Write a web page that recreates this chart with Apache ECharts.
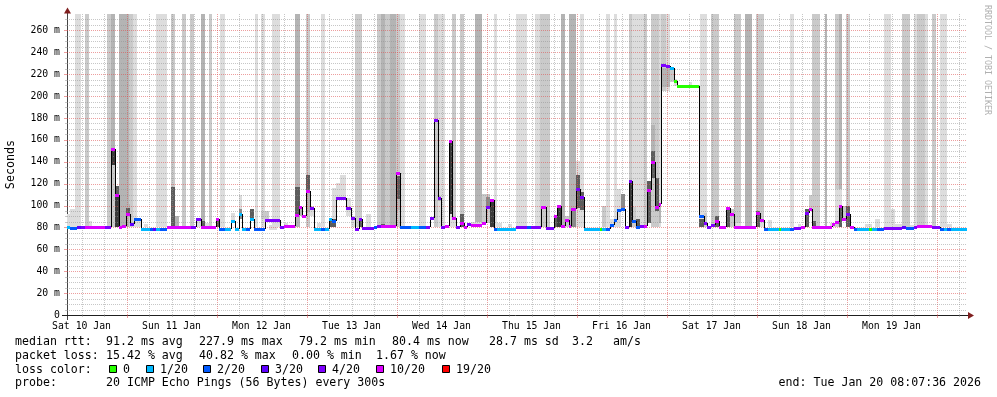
<!DOCTYPE html>
<html>
<head>
<meta charset="utf-8">
<title>smokeping</title>
<script src="https://cdn.jsdelivr.net/npm/echarts@6/dist/echarts.min.js"></script>
<style>
  html, body { margin: 0; padding: 0; background: #fff; }
  #chart { width: 997px; height: 397px; }
</style>
</head>
<body>
<div id="chart"></div>
<script>
// x values are hours from the graph start (Sat 10 Jan 08:07:36), 10 days shown
var START = Date.UTC(2026, 0, 10, 8, 7, 36);
var SPAN = 240;
var YMAX = 275;

var dayLabels = ['Sat 10 Jan', 'Sun 11 Jan', 'Mon 12 Jan', 'Tue 13 Jan', 'Wed 14 Jan',
                 'Thu 15 Jan', 'Fri 16 Jan', 'Sat 17 Jan', 'Sun 18 Jan', 'Mon 19 Jan'];

var lossLabels = ['0', '1/20', '2/20', '3/20', '4/20', '10/20', '19/20'];
var lossColors = ['#26ff00', '#00b8ff', '#0059ff', '#5e00ff', '#7e00ff', '#dd00ff', '#ff0000'];

// median rtt steps: start hour, ms, loss colour index
var medH = [0, 0.9, 2.7, 3.8, 4.9, 10.0, 11.6, 12.9, 13.8, 14.7, 15.6, 16.7, 17.8, 19.7, 22.0, 22.8, 23.7, 24.9, 26.7, 33.0,
  34.5, 35.7, 39.6, 40.6, 42.0, 43.6, 44.7, 45.8, 46.7, 47.8, 48.7, 49.8, 52.7, 56.7, 57.8, 60.8, 61.8, 62.7, 63.7, 64.7,
  65.8, 67.7, 68.9, 69.8, 70.7, 71.7, 74.5, 75.6, 76.7, 77.8, 78.7, 81.8, 82.7, 83.8, 87.6, 88.9, 91.7, 93.8, 95.8, 96.7,
  97.8, 98.8, 99.8, 100.9, 101.8, 102.7, 103.7, 104.7, 105.8, 106.7, 107.7, 110.7, 111.6, 112.7, 113.8, 114.7, 119.7, 122.7, 123.7, 126.5,
  127.7, 129.8, 130.7, 131.7, 132.7, 133.8, 134.5, 135.6, 136.7, 137.8, 142.0, 142.7, 143.7, 144.7, 145.8, 146.7, 147.7, 148.7, 149.8, 150.7,
  151.7, 152.8, 153.8, 154.7, 155.7, 156.7, 157.8, 158.5, 159.7, 160.9, 161.8, 162.7, 168.6, 169.8, 170.7, 171.7, 172.7, 173.8, 175.6, 176.7,
  177.8, 183.6, 184.7, 185.8, 186.8, 189.8, 190.5, 192.8, 193.8, 195.8, 196.7, 197.8, 198.7, 204.0, 204.9, 205.8, 206.7, 207.8, 208.7, 209.8,
  210.7, 213.8, 214.7, 216.0, 217.8, 222.7, 223.6, 225.8, 226.7, 230.7, 232.9, 233.8, 234.7, 235.6];
var medMs = [80, 79.5, 80, 80, 80.5, 80, 152, 110, 80, 81.5, 92, 83, 88, 79, 79, 79, 79, 79, 80.5, 80,
  88, 80.5, 88, 79, 79, 86, 79, 92, 79, 79, 88, 79, 87, 80, 81, 91, 99, 90, 113, 98,
  79, 79, 79, 88, 86, 107, 98, 89, 79, 88, 79.5, 80, 81, 81.5, 130, 80, 80, 80, 80, 89,
  178, 107, 80, 81, 159, 89, 80, 84, 80, 83, 82, 84.5, 99, 105, 79, 79, 80, 80, 80, 99,
  79.5, 90, 100, 81, 87, 81, 97, 115, 108, 79, 79, 79, 79, 82, 87, 96, 97, 80, 122, 86,
  80, 81, 81.5, 114, 139.5, 99, 101, 228, 227.5, 226, 213.5, 209, 90, 84.5, 80, 82.5, 86, 80, 97.5, 92,
  80, 93, 86.5, 79, 79, 79, 79, 79, 79.5, 80, 93, 96.5, 80, 83, 85, 99.7, 88, 92, 80, 79,
  79, 79, 79, 79, 79.5, 80, 79.5, 80, 81, 80.5, 79, 79, 79, 79];
var medLoss = [1, 2, 3, 4, 5, 4, 5, 5, 5, 5, 5, 3, 2, 1, 2, 3, 1, 2, 5, 4,
  4, 5, 5, 2, 1, 1, 1, 1, 1, 2, 1, 2, 4, 4, 5, 5, 5, 5, 5, 4,
  1, 2, 1, 1, 2, 4, 4, 4, 4, 4, 4, 2, 4, 5, 5, 2, 1, 2, 4, 4,
  4, 4, 4, 5, 5, 5, 4, 5, 5, 4, 5, 5, 4, 5, 2, 1, 4, 2, 4, 5,
  4, 5, 5, 5, 5, 5, 5, 4, 4, 1, 0, 1, 2, 2, 2, 2, 2, 4, 4, 2,
  2, 4, 5, 5, 5, 5, 5, 4, 4, 1, 0, 0, 2, 4, 4, 4, 5, 5, 5, 5,
  5, 5, 5, 2, 1, 0, 1, 2, 4, 5, 4, 5, 5, 5, 5, 5, 5, 4, 5, 2,
  1, 0, 1, 2, 4, 3, 2, 4, 5, 4, 2, 1, 2, 1];

// ping spread reaching above the top of the graph: start hour, end hour, lowest ms, shade
var smokeTall = [
  [2.0, 3.8, 80, 0], [4.7, 5.8, 80, 1], [10.7, 11.6, 80, 1], [11.6, 12.9, 80, 2], [13.8, 16.4, 80, 2], [16.4, 17.5, 80, 1],
  [17.5, 18.7, 80, 0], [23.7, 26.7, 80, 0], [27.7, 28.9, 80, 1], [30.7, 31.7, 80, 1], [32.9, 33.8, 80, 1], [35.7, 36.9, 80, 2],
  [37.8, 38.7, 80, 1], [40.9, 42.0, 80, 0], [50.0, 50.8, 80, 0], [51.7, 52.7, 80, 0], [54.7, 56.9, 80, 0], [60.8, 62.0, 80, 2],
  [63.7, 64.9, 80, 1], [67.7, 68.9, 80, 0], [76.9, 78.7, 80, 1], [82.7, 83.8, 80, 1], [83.8, 84.9, 80, 2], [84.9, 86.0, 80, 1],
  [86.0, 87.6, 80, 2], [87.6, 88.9, 80, 1], [88.9, 90.0, 80, 0], [93.8, 95.8, 80, 0], [97.8, 98.8, 80, 1], [98.8, 100.9, 80, 0],
  [102.7, 103.7, 80, 1], [104.7, 105.8, 80, 1], [108.9, 110.7, 80, 2], [113.8, 114.7, 80, 0], [119.7, 122.7, 80, 0], [124.9, 126.0, 80, 0],
  [126.0, 128.7, 80, 1], [131.7, 132.7, 80, 2], [133.8, 135.7, 80, 2], [136.9, 137.8, 80, 0], [143.7, 144.7, 80, 0], [145.8, 146.7, 80, 0],
  [149.8, 150.7, 80, 1], [150.7, 153.8, 80, 0], [153.8, 154.7, 80, 1], [155.7, 157.8, 80, 1], [157.8, 158.5, 80, 0], [158.5, 159.7, 205, 1],
  [159.7, 160.9, 205, 0], [168.9, 170.7, 80, 0], [171.7, 173.8, 80, 1], [177.8, 179.7, 80, 1], [180.8, 182.7, 80, 2], [183.7, 185.8, 80, 1],
  [192.8, 193.8, 80, 0], [198.7, 200.9, 80, 1], [202.0, 202.7, 80, 2], [204.9, 205.8, 80, 1], [205.8, 206.7, 80, 2], [207.8, 208.7, 80, 1],
  [217.8, 219.7, 80, 0], [222.7, 224.7, 80, 1], [225.8, 226.7, 80, 0], [226.7, 228.9, 80, 1], [228.9, 229.7, 80, 0], [230.7, 231.7, 80, 1],
  [232.9, 234.7, 80, 0]
];

// ping spread around the median: start hour, end hour, low ms, high ms, shade
var smoke = [
  [0, 0.9, 80, 92, 0], [0.9, 2.0, 80, 97, 0], [5.8, 6.7, 80, 86, 0],
  [11.6, 12.9, 80, 137, 1], [11.6, 12.9, 137, 152, 5], [12.9, 13.8, 108, 118, 4], [12.9, 13.8, 80, 108, 5],
  [15.6, 16.7, 98, 101, 2], [15.6, 16.7, 92, 98, 4], [17.8, 19.7, 80, 87, 0], [20.5, 21.5, 80, 83, 0], [24.0, 25.0, 80, 84, 0],
  [27.7, 28.9, 80, 117, 4], [28.9, 29.8, 80, 90, 2], [34.5, 35.7, 80, 88, 0], [35.7, 36.9, 80, 86, 4], [36.9, 37.8, 80, 84, 0],
  [39.6, 40.6, 80, 88, 4], [43.6, 44.7, 86, 93, 0], [45.8, 46.7, 92, 110, 0], [45.8, 46.7, 88, 97, 3], [48.7, 49.8, 88, 97, 4],
  [51.7, 53.8, 88, 95, 1], [53.8, 56.0, 78, 82, 0], [57.8, 58.8, 80, 84, 0],
  [60.8, 62.0, 90, 117, 4], [61.8, 62.7, 90, 100, 2], [63.7, 64.7, 94, 113, 2], [63.7, 64.7, 113, 128, 4], [64.7, 65.8, 90, 100, 0],
  [66.6, 67.7, 80, 84, 0], [70.7, 71.7, 88, 116, 0], [69.8, 71.7, 80, 88, 4], [71.7, 72.7, 107, 121, 0], [72.7, 74.5, 107, 128, 0],
  [74.5, 75.6, 90, 107, 0], [75.6, 76.7, 80, 90, 0], [77.8, 78.7, 80, 88, 4],
  [79.6, 81.0, 80, 92, 0], [83.8, 84.9, 80, 83, 4], [87.6, 88.9, 96, 106, 2], [87.6, 88.9, 106, 127, 4], [88.9, 90.0, 80, 84, 0],
  [98.8, 99.8, 109, 127, 0], [98.8, 99.8, 104, 109, 2], [101.8, 102.7, 80, 92, 0], [101.8, 102.7, 92, 159, 5], [102.7, 103.7, 80, 89, 0],
  [104.7, 105.8, 80, 92, 4], [107.7, 110.7, 80, 85, 0], [110.7, 112.7, 84, 111, 1], [111.6, 112.7, 98, 108, 3], [112.7, 113.8, 80, 105, 5],
  [114.7, 116.0, 80, 84, 0], [117.5, 118.6, 80, 83, 0],
  [120.5, 121.5, 80, 83, 0], [129.8, 130.7, 80, 90, 4], [130.7, 131.7, 80, 100, 5], [131.7, 132.7, 80, 82, 0], [132.7, 133.8, 80, 90, 1],
  [134.5, 135.6, 80, 97, 3], [135.6, 136.7, 80, 141, 0], [135.6, 136.7, 98, 128, 4], [136.7, 137.8, 86, 118, 0], [136.7, 137.8, 96, 112, 4],
  [142.7, 143.7, 80, 100, 1], [144.7, 145.8, 80, 88, 0], [145.8, 146.7, 80, 92, 0], [146.7, 147.7, 80, 115, 0], [147.7, 148.7, 95, 111, 3],
  [149.8, 150.7, 80, 123, 5], [150.7, 151.7, 80, 99, 1], [151.7, 152.8, 80, 88, 4], [154.7, 155.7, 84, 122, 4],
  [155.7, 156.7, 150, 174, 2], [155.7, 156.7, 125, 150, 4], [156.7, 157.8, 85, 130, 1], [156.7, 157.8, 95, 125, 4], [157.8, 158.5, 84, 100, 2],
  [158.5, 160.9, 208, 226, 2], [160.9, 161.8, 213, 226, 1],
  [161.8, 162.7, 209, 216, 0], [165.8, 166.6, 209, 213, 0], [168.6, 169.8, 80, 100, 0], [168.6, 169.8, 80, 88, 4], [169.8, 170.7, 80, 93, 1],
  [172.7, 173.8, 80, 90, 4], [175.6, 176.7, 80, 97, 4], [176.7, 177.8, 80, 97, 1], [178.5, 179.6, 80, 84, 0],
  [183.6, 184.7, 80, 95, 4], [184.7, 185.8, 80, 87, 0], [186.8, 188.0, 80, 87, 0], [194.8, 195.8, 80, 83, 0], [196.7, 197.8, 80, 97, 4],
  [197.8, 198.7, 95, 110, 1],
  [198.7, 199.8, 80, 100, 1], [198.7, 199.8, 80, 86, 4], [203.5, 204.9, 80, 84, 0], [204.9, 205.8, 85, 115, 0], [205.8, 206.7, 100, 115, 0],
  [205.8, 206.7, 80, 100, 4], [206.7, 207.8, 88, 100, 1], [207.8, 208.7, 80, 100, 4],
  [212.9, 214.7, 80, 83, 0], [215.5, 216.8, 80, 88, 0], [219.7, 220.8, 80, 97, 0], [220.8, 222.7, 80, 83, 0], [224.7, 225.8, 80, 82, 0],
  [228.9, 230.7, 80, 82, 0], [234.7, 236.0, 80, 83, 0]
];

var rttStats = ['91.2 ms avg', '227.9 ms max', '79.2 ms min', '80.4 ms now', '28.7 ms sd', '3.2', 'am/s'];
var lossStats = ['15.42 % avg', '40.82 % max', '0.00 % min', '1.67 % now'];
var probeText = '20 ICMP Echo Pings (56 Bytes) every 300s';
var endText = 'end: Tue Jan 20 08:07:36 2026';

var shades = ['#dddddd', '#cacaca', '#b4b4b4', '#8a8a8a', '#5c5c5c', '#3a3a3a'];
var MONO = 'DejaVu Sans Mono';

// ---- build series data ----
var h0 = (START - Date.UTC(2026, 0, 10)) / 3600000;   // hour of day at graph start

var gridData = [];
for (var t = 6; t < h0 + SPAN; t += 6) {
    if (t > h0) gridData.push([t - h0, t % 24 === 0 ? 1 : 0]);
}
for (var v = 5; v < YMAX; v += 5) gridData.push([v, v % 20 === 0 ? 3 : 2]);

var dayData = dayLabels.map(function (d, i) { return [12 + 24 * i - h0, i]; });

var tallData = smokeTall.map(function (s) { return [s[0], s[1], s[2], YMAX, s[3]]; });

var medData = medH.map(function (h, i) {
    var next = i + 1 < medH.length ? medH[i + 1] : SPAN;
    var nextMs = i + 1 < medH.length ? medMs[i + 1] : medMs[i];
    return [h, next, medMs[i], medLoss[i], nextMs];
});

function renderBox(params, api) {
    var p0 = api.coord([api.value(0), api.value(3)]);
    var p1 = api.coord([api.value(1), api.value(2)]);
    var x0 = Math.round(p0[0]), x1 = Math.round(p1[0]);
    var y0 = Math.round(p0[1]), y1 = Math.round(p1[1]);
    return {
        type: 'rect',
        shape: {x: x0, y: y0, width: x1 - x0, height: y1 - y0},
        style: {fill: shades[api.value(4)]}
    };
}

function renderGrid(params, api) {
    var val = api.value(0), kind = api.value(1);
    var cs = params.coordSys;
    var major = kind === 1 || kind === 3;
    var color = major ? 'rgba(222,79,79,0.55)' : 'rgba(143,143,143,0.5)';
    var dotted = {stroke: color, lineWidth: 1, lineDash: [1, 1]};
    var solid = {stroke: color, lineWidth: 1};
    if (kind < 2) {
        var x = Math.round(api.coord([val, 0])[0]) + 0.5;
        var yb = cs.y + cs.height;
        return {type: 'group', children: [
            {type: 'line', shape: {x1: x, y1: cs.y, x2: x, y2: yb}, style: dotted},
            {type: 'line', shape: {x1: x, y1: yb, x2: x, y2: yb + (major ? 3 : 2)}, style: solid}
        ]};
    }
    var y = Math.round(api.coord([0, val])[1]) + 0.5;
    return {type: 'group', children: [
        {type: 'line', shape: {x1: cs.x, y1: y, x2: cs.x + cs.width, y2: y}, style: dotted},
        {type: 'line', shape: {x1: cs.x - (major ? 3 : 2), y1: y, x2: cs.x, y2: y}, style: solid}
    ]};
}

function renderMedian(params, api) {
    var a = api.coord([api.value(0), api.value(2)]);
    var b = api.coord([api.value(1), api.value(4)]);
    var x0 = Math.round(a[0]), x1 = Math.round(b[0]);
    var y = Math.round(a[1]), yn = Math.round(b[1]);
    return {type: 'group', children: [
        {type: 'line', shape: {x1: x0, y1: y + 0.5, x2: x1, y2: y + 0.5}, style: {stroke: '#000', lineWidth: 1}},
        {type: 'line', shape: {x1: x1 + 0.5, y1: y, x2: x1 + 0.5, y2: yn}, style: {stroke: '#000', lineWidth: 1}},
        {type: 'rect', shape: {x: x0, y: y - 1, width: x1 - x0, height: 3}, style: {fill: lossColors[api.value(3)]}}
    ]};
}

function renderDay(params, api) {
    var cs = params.coordSys;
    var x = api.coord([api.value(0), 0])[0];
    return {
        type: 'text', x: x, y: cs.y + cs.height + 11,
        style: {text: dayLabels[api.value(1)], fontFamily: MONO, fontSize: 9.8, fill: '#000',
                align: 'center', verticalAlign: 'middle'}
    };
}

// ---- legend / text block below the graph ----
function txt(x, y, s, align) {
    return {type: 'text', x: x, y: y, silent: true,
            style: {text: s, fontFamily: MONO, fontSize: 11.6, fill: '#000',
                    align: align || 'left', verticalAlign: 'middle'}};
}
var rttCols = [106, 199, 299, 392, 489, 572, 613];
var lossCols = [106, 199, 292, 376];
var swatchX = [109, 146, 203, 261, 318, 376, 442];
var rowY = [342.3, 355.7, 369.5, 383];

var graphics = [];
graphics.push(txt(15, rowY[0], 'median rtt:'));
rttStats.forEach(function (s, i) { graphics.push(txt(rttCols[i], rowY[0], s)); });
graphics.push(txt(15, rowY[1], 'packet loss:'));
lossStats.forEach(function (s, i) { graphics.push(txt(lossCols[i], rowY[1], s)); });
graphics.push(txt(15, rowY[2], 'loss color:'));
lossLabels.forEach(function (s, i) {
    graphics.push({type: 'rect', shape: {x: swatchX[i] + 0.5, y: 365.5, width: 7, height: 7},
                   style: {fill: lossColors[i], stroke: '#000', lineWidth: 1}});
    graphics.push(txt(swatchX[i] + 14, rowY[2], s));
});
graphics.push(txt(15, rowY[3], 'probe:'));
graphics.push(txt(106, rowY[3], probeText));
graphics.push(txt(981, rowY[3], endText, 'right'));

// axis label, arrows and watermark
graphics.push({type: 'text', x: 10.5, y: 164.5, rotation: Math.PI / 2,
               style: {text: 'Seconds', fontFamily: MONO, fontSize: 11.7, fill: '#000', align: 'center', verticalAlign: 'middle'}});
graphics.push({type: 'text', x: 987, y: 60, rotation: -Math.PI / 2,
               style: {text: 'RRDTOOL / TOBI OETIKER', fontFamily: MONO, fontSize: 8.3, fill: '#b0b0b0', align: 'center', verticalAlign: 'middle'}});
graphics.push({type: 'line', shape: {x1: 67.5, y1: 12, x2: 67.5, y2: 320}, style: {stroke: '#444', lineWidth: 1}});
graphics.push({type: 'line', shape: {x1: 62, y1: 315.5, x2: 969, y2: 315.5}, style: {stroke: '#1f1f1f', lineWidth: 1}});
graphics.push({type: 'polygon', shape: {points: [[64, 13.5], [71, 13.5], [67.5, 7.5]]}, style: {fill: '#801f1f'}});
graphics.push({type: 'polygon', shape: {points: [[968, 312], [968, 319], [974, 315.5]]}, style: {fill: '#801f1f'}});

var chart = echarts.init(document.getElementById('chart'));
var option = {
    backgroundColor: '#ffffff',
    animation: false,
    grid: {left: 67, right: 30, top: 14, bottom: 82},
    xAxis: {
        type: 'value', min: 0, max: SPAN,
        axisLine: {show: false}, axisTick: {show: false},
        axisLabel: {show: false}, splitLine: {show: false}
    },
    yAxis: {
        type: 'value', min: 0, max: YMAX, interval: 20,
        axisLine: {show: false}, axisTick: {show: false}, splitLine: {show: false},
        axisLabel: {
            margin: 7, showMaxLabel: false, fontFamily: MONO, fontSize: 9.8, color: '#000',
            formatter: function (val) { return val === 0 ? '0' : val + ' m'; }
        }
    },
    series: [
        {type: 'custom', name: 'tall', data: tallData, renderItem: renderBox, clip: true, z: 1, silent: true,
         encode: {x: [0, 1], y: [2, 3]}},
        {type: 'custom', name: 'smoke', data: smoke, renderItem: renderBox, clip: true, z: 2, silent: true,
         encode: {x: [0, 1], y: [2, 3]}},
        {type: 'custom', name: 'grid', data: gridData, renderItem: renderGrid, clip: false, z: 3, silent: true},
        {type: 'custom', name: 'median', data: medData, renderItem: renderMedian, clip: true, z: 4, silent: true,
         encode: {x: [0, 1], y: 2}},
        {type: 'custom', name: 'days', data: dayData, renderItem: renderDay, clip: false, z: 5, silent: true}
    ],
    graphic: graphics
};
chart.setOption(option);
</script>
</body>
</html>
